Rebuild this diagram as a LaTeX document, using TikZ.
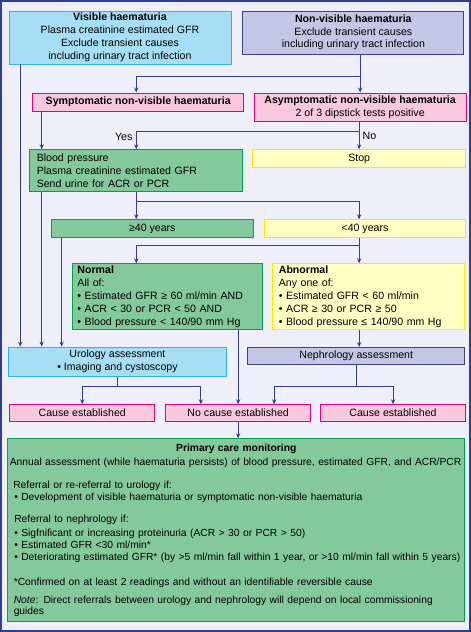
\documentclass[tikz,border=0pt]{standalone}
\usepackage{fontspec}
\setmainfont{Liberation Sans}
\usetikzlibrary{arrows.meta,positioning}

\definecolor{pagebg}{RGB}{238,239,248}
\definecolor{linkblue}{RGB}{47,62,150}
\definecolor{skyfill}{RGB}{166,222,246}
\definecolor{skyline}{RGB}{37,181,232}
\definecolor{lilacfill}{RGB}{197,198,230}
\definecolor{lilacline}{RGB}{62,64,145}
\definecolor{pinkfill}{RGB}{250,200,222}
\definecolor{pinkline}{RGB}{230,0,126}
\definecolor{greenfill}{RGB}{132,201,155}
\definecolor{greenline}{RGB}{0,160,80}
\definecolor{yellowfill}{RGB}{255,255,196}
\definecolor{yellowline}{RGB}{255,232,0}

\begin{document}
\begin{tikzpicture}[
  x=1pt,y=-1pt,
  font=\fontsize{10.6}{12.8}\selectfont,
  box/.style={draw,line width=0.9pt,inner sep=2pt,anchor=north west,align=center},
  visbox/.style={box,fill=skyfill,draw=skyline},
  nvbox/.style={box,fill=lilacfill,draw=lilacline},
  pinkbox/.style={box,fill=pinkfill,draw=pinkline},
  greenbox/.style={box,fill=greenfill,draw=greenline},
  yellowbox/.style={box,fill=yellowfill,draw=yellowline},
  arrow/.style={-{Stealth[length=5pt,width=4.2pt]},draw=linkblue,line width=0.9pt}
]
\useasboundingbox (0,0) rectangle (471,632);
\draw[fill=pagebg,draw=linkblue,line width=1.6pt] (0.8,0.8) rectangle (470.2,631.2);

% first row
\node[visbox,minimum width=222,minimum height=53] (visible) at (8.5,10.5)
{\textbf{Visible haematuria}\\Plasma creatinine estimated GFR\\
Exclude transient causes\\including urinary tract infection};
\node[nvbox,right=11pt of visible.north east,anchor=north west,
  minimum width=221,minimum height=43] (nonvis)
{\textbf{Non-visible haematuria}\\Exclude transient causes\\
including urinary tract infection};

\node[pinkbox,minimum width=211,minimum height=18] (symp) at (32.3,92.5)
{\textbf{Symptomatic non-visible haematuria}};
\node[pinkbox,right=9.5pt of symp.north east,anchor=north west,
  minimum width=212,minimum height=28.5] (asymp)
{\textbf{Asymptomatic non-visible haematuria}\\2 of 3 dipstick tests positive};

\node[greenbox,align=left,inner xsep=7pt,text width=199,minimum height=41.5]
  (bp) at (29.3,149.3)
{Blood pressure\\Plasma creatinine estimated GFR\\Send urine for ACR or PCR};
\node[yellowbox,right=9pt of bp.north east,anchor=north west,
  minimum width=213,minimum height=17.5] (stop) {Stop};

\node[greenbox,minimum width=201.7,minimum height=17.3] (over40) at (51,219.3)
{≥40 years};
\node[yellowbox,right=10.6pt of over40.north east,anchor=north west,
  minimum width=200.7,minimum height=17.3] (under40) {<40 years};

\node[greenbox,align=left,inner xsep=5pt,text width=180,minimum height=66]
  (normal) at (72,263.3)
{\textbf{Normal}\\All of:\\• Estimated GFR ≥ 60 ml/min AND\\
• ACR < 30 or PCR < 50 AND\\• Blood pressure < 140/90 mm Hg};
\node[yellowbox,align=left,inner xsep=6pt,text width=179.5,minimum height=66,
  right=9.5pt of normal.north east,anchor=north west] (abnormal)
{\textbf{Abnormal}\\Any one of:\\• Estimated GFR < 60 ml/min\\
• ACR ≥ 30 or PCR ≥ 50\\• Blood pressure ≤ 140/90 mm Hg};

\node[visbox,minimum width=217.4,minimum height=29] (urology) at (8.3,346.7)
{Urology assessment\\• Imaging and cystoscopy};
\node[nvbox,minimum width=217,minimum height=17.3] (nephro) at (247.3,347)
{Nephrology assessment};

\node[pinkbox,minimum width=145,minimum height=16.7] (cause1) at (9.3,404.3)
{Cause established};
\node[pinkbox,right=10pt of cause1.north east,anchor=north west,
  minimum width=145,minimum height=16.7] (nocause) {No cause established};
\node[pinkbox,right=9pt of nocause.north east,anchor=north west,
  minimum width=145,minimum height=16.7] (cause2) {Cause established};

\node[greenbox,align=left,inner xsep=2pt,text width=453,minimum height=182.7,
  font=\fontsize{10.3}{12}\selectfont] (pcm) at (7.3,438.3)
{\makebox[453pt]{\textbf{Primary care monitoring}}\\[2pt]
\mbox{Annual assessment (while haematuria persists) of blood pressure, estimated GFR, and ACR/PCR}\\[11pt]
\hspace*{3.5pt}Referral or re-referral to urology if:\\
\hspace*{4.5pt}\mbox{• Development of visible haematuria or symptomatic non-visible haematuria}\\[10pt]
\hspace*{4.5pt}Referral to nephrology if:\\[2pt]
\hspace*{4.5pt}\mbox{• Sigfnificant or increasing proteinuria (ACR > 30 or PCR > 50)}\\
\hspace*{4.5pt}• Estimated GFR <30 ml/min*\\
\hspace*{4.5pt}\mbox{• Deteriorating estimated GFR* (by >5 ml/min fall within 1 year, or >10 ml/min fall within 5 years)}\\[13pt]
\hspace*{4pt}\mbox{*Confirmed on at least 2 readings and without an identifiable reversible cause}\\[6pt]
\hspace*{4pt}\mbox{\textit{Note}: Direct referrals between urology and nephrology will depend on local commissioning}\\[-1pt]
\hspace*{4pt}guides};

% connectors
\draw[arrow] (nonvis.south -| asymp.south) -- (asymp.north);
\draw[arrow] (nonvis.south -| asymp.south) -- ++(0,22) -| (symp.north -| bp.north);
\draw[arrow] ([xshift=11.7pt]visible.south west) -- ([xshift=11.7pt]visible.south west |- urology.north);
\draw[arrow] ([xshift=9.4pt]symp.south west) -- ([xshift=9.4pt]symp.south west |- bp.north);
\draw[arrow] (asymp.south -| stop.north) -- node[pos=0.5,right,inner sep=3pt] (no) {No} (stop.north);
\draw[arrow] (asymp.south -| stop.north) -- ++(0,9.5) -| node[pos=0.66,left,inner sep=3.5pt] (yes) {Yes} (bp.north);
\draw[arrow] ([xshift=12.4pt]bp.south west) -- ([xshift=12.4pt]bp.south west |- urology.north);
\draw[arrow] (bp.south) -- (bp.south |- over40.north);
\draw[arrow] (bp.south) -- ++(0,9.5) -| (stop.south |- under40.north);
\draw[arrow] ([xshift=10.7pt]over40.south west) -- ([xshift=10.7pt]over40.south west |- urology.north);
\draw[arrow] (stop.south |- under40.south) -- ++(0,8.3) -| (bp.south |- normal.north);
\draw[arrow] (stop.south |- under40.south) -- (stop.south |- abnormal.north);
\draw[arrow] (nocause.north |- normal.south) -- (nocause.north);
\draw[arrow] (stop.south |- abnormal.south) -- (stop.south |- nephro.north);
\draw[arrow] (urology.south) -- ++(0,10.3) -| (cause1.north);
\draw[arrow] (urology.south) -- ++(0,10.3) -| ([xshift=35.7pt]nocause.north west);
\draw[arrow] (nephro.south) -- ++(0,21.7) -| ([xshift=-37pt]nocause.north east);
\draw[arrow] (nephro.south) -- ++(0,21.7) -| (cause2.north);
\draw[arrow] (nocause.south) -- (nocause.south |- pcm.north);
\end{tikzpicture}
\end{document}
